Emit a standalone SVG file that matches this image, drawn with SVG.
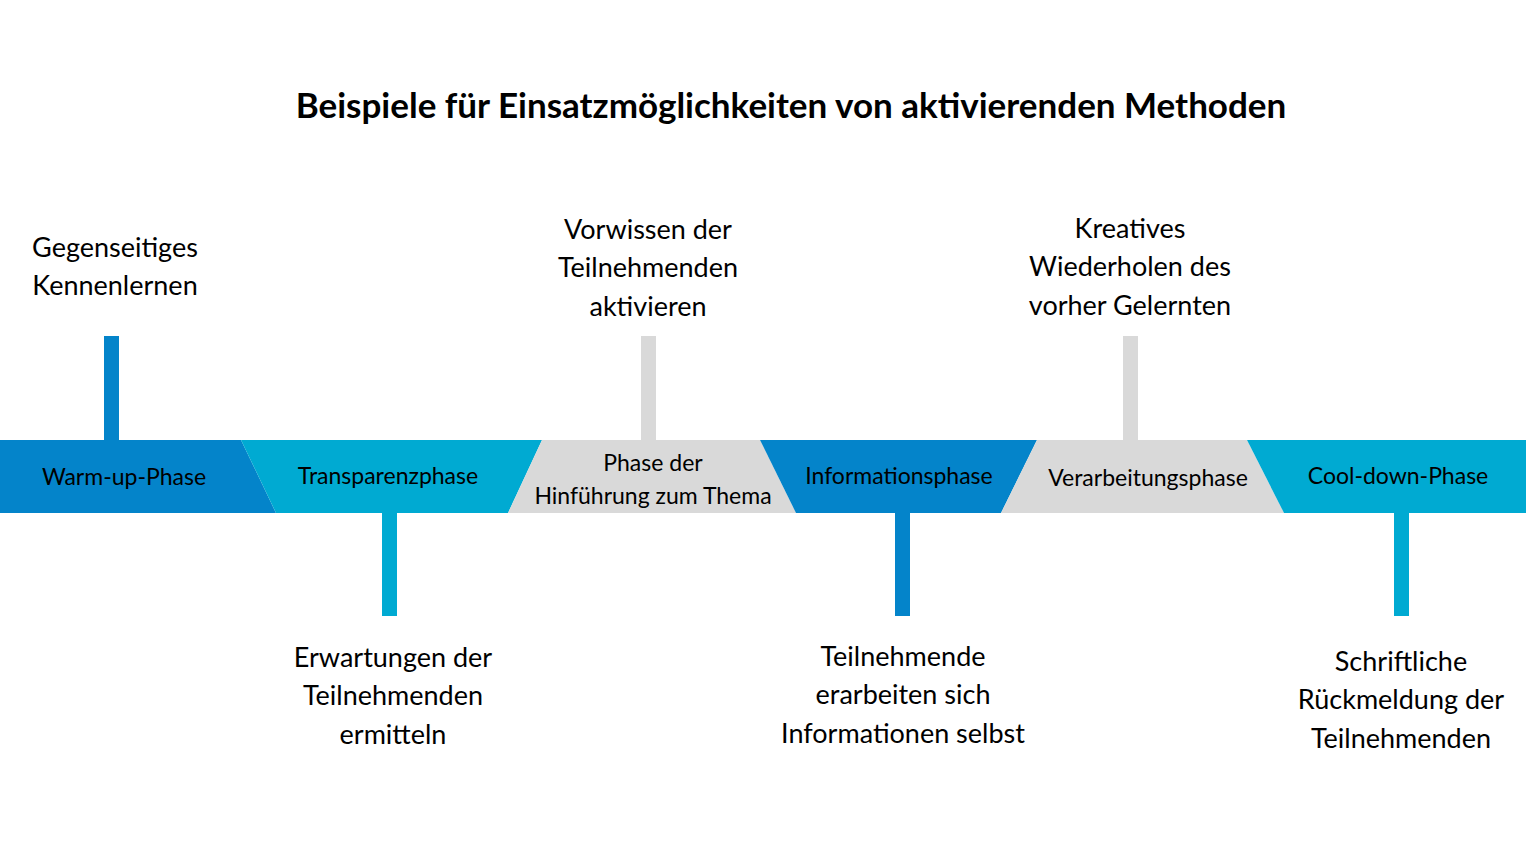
<svg xmlns="http://www.w3.org/2000/svg" width="1526" height="860" viewBox="0 0 1526 860">
<style>
text{font-family:Lato,"Open Sans","Liberation Sans",sans-serif;fill:#000;text-anchor:middle}
.t{font-size:35px;font-weight:bold}
.l{font-size:27px}
.b{font-size:23px}
.db{fill:#0484CA}.lb{fill:#00AAD2}.gr{fill:#D9D9D9}
</style>
<rect width="1526" height="860" fill="#fff"/>
<text class="t" x="791" y="118">Beispiele für Einsatzmöglichkeiten von aktivierenden Methoden</text>
<g id="connectors">
<rect class="db" x="104" y="336" width="15" height="104"/>
<rect class="lb" x="382" y="513" width="15" height="103"/>
<rect class="gr" x="641" y="336" width="15" height="104"/>
<rect class="db" x="895" y="513" width="15" height="103"/>
<rect class="gr" x="1123" y="336" width="15" height="104"/>
<rect class="lb" x="1394" y="513" width="15" height="103"/>
</g>
<g id="warmup"><polygon class="db" points="0,440 241,440 276,513 0,513"/><text class="b" x="124" y="485">Warm-up-Phase</text></g>
<g id="transparenz"><polygon class="lb" points="241,440 542,440 508,513 276,513"/><text class="b" x="388" y="484">Transparenzphase</text></g>
<g id="hinfuehrung"><polygon class="gr" points="542,440 760,440 796,513 508,513"/><text class="b" x="653" y="471">Phase der</text><text class="b" x="653" y="504">Hinführung zum Thema</text></g>
<g id="information"><polygon class="db" points="760,440 1037,440 1001,513 796,513"/><text class="b" x="899" y="484">Informationsphase</text></g>
<g id="verarbeitung"><polygon class="gr" points="1037,440 1247,440 1284,513 1001,513"/><text class="b" x="1148" y="486">Verarbeitungsphase</text></g>
<g id="cooldown"><polygon class="lb" points="1247,440 1526,440 1526,513 1284,513"/><text class="b" x="1398" y="484">Cool-down-Phase</text></g>
<g id="l1"><text class="l" x="115" y="257">Gegenseitiges</text><text class="l" x="115" y="295">Kennenlernen</text></g>
<g id="l2"><text class="l" x="393" y="667">Erwartungen der</text><text class="l" x="393" y="705">Teilnehmenden</text><text class="l" x="393" y="744">ermitteln</text></g>
<g id="l3"><text class="l" x="648" y="239">Vorwissen der</text><text class="l" x="648" y="277">Teilnehmenden</text><text class="l" x="648" y="316">aktivieren</text></g>
<g id="l4"><text class="l" x="903" y="666">Teilnehmende</text><text class="l" x="903" y="704">erarbeiten sich</text><text class="l" x="903" y="743">Informationen selbst</text></g>
<g id="l5"><text class="l" x="1130" y="238">Kreatives</text><text class="l" x="1130" y="276">Wiederholen des</text><text class="l" x="1130" y="315">vorher Gelernten</text></g>
<g id="l6"><text class="l" x="1401" y="671">Schriftliche</text><text class="l" x="1401" y="709">Rückmeldung der</text><text class="l" x="1401" y="748">Teilnehmenden</text></g>
</svg>
